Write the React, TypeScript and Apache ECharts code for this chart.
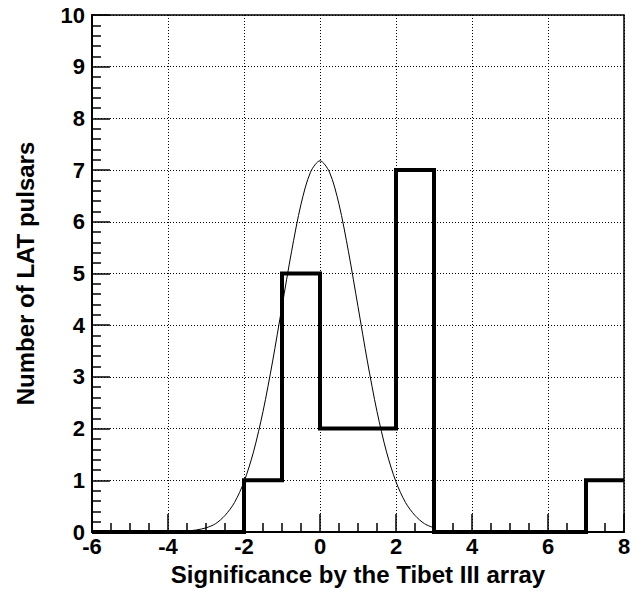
import React, { useEffect, useRef } from "react";
import * as echarts from "echarts";

// Histogram: bin lower edges and counts (bin width 1)
const binEdges = [-6, -5, -4, -3, -2, -1, 0, 1, 2, 3, 4, 5, 6, 7, 8];
const binCounts = [0, 0, 0, 0, 1, 5, 2, 2, 7, 0, 0, 0, 0, 1];

// Fitted curve
const curveX = [-3.5, -3.25, -3, -2.75, -2.5, -2.25, -2, -1.75, -1.5, -1.25, -1, -0.75, -0.5, -0.25, 0, 0.25, 0.5, 0.75, 1, 1.25, 1.5, 1.75, 2, 2.25, 2.5, 2.75, 3];
const curveY = [0.02, 0.04, 0.08, 0.16, 0.32, 0.57, 0.97, 1.55, 2.33, 3.29, 4.36, 5.42, 6.34, 6.96, 7.18, 6.96, 6.34, 5.42, 4.36, 3.29, 2.33, 1.55, 0.97, 0.57, 0.32, 0.16, 0.08];

const xTitle = "Significance by the Tibet III array";
const yTitle = "Number of LAT pulsars";

export default function App() {
  const ref = useRef<HTMLDivElement>(null);
  useEffect(() => {
    if (!ref.current) return;
    const chart = echarts.init(ref.current, null, { renderer: "svg" });
    const histData: number[][] = binCounts.map((c, i) => [binEdges[i], c]);
    histData.push([binEdges[binEdges.length - 1], binCounts[binCounts.length - 1]]);
    const curveData = curveX.map((x, i) => [x, curveY[i]]);
    const font = "'Liberation Sans', Arial, sans-serif";
    chart.setOption({
      animation: false,
      backgroundColor: "#fff",
      grid: {
        left: 92,
        right: 19,
        top: 15,
        bottom: 53,
        show: true,
        borderColor: "#000",
        borderWidth: 1.5,
        containLabel: false,
      },
      xAxis: {
        type: "value",
        min: -6,
        max: 8,
        interval: 2,
        name: xTitle,
        nameLocation: "middle",
        nameGap: 30,
        nameTextStyle: { fontFamily: font, fontWeight: "bold", fontSize: 24, color: "#000" },
        axisLine: { show: true, onZero: false, lineStyle: { color: "#000", width: 2 } },
        axisTick: { show: true, inside: true, length: 18, lineStyle: { color: "#000", width: 1.5 } },
        minorTick: { show: true, splitNumber: 4, length: 9, lineStyle: { color: "#000", width: 1.5 } },
        axisLabel: { margin: 3, fontFamily: font, fontWeight: "bold", fontSize: 22, color: "#000" },
        splitLine: { show: true, lineStyle: { color: "#000", width: 1, type: [1, 2] } },
      },
      yAxis: {
        type: "value",
        min: 0,
        max: 10,
        interval: 1,
        name: yTitle,
        nameLocation: "middle",
        nameGap: 55,
        nameTextStyle: { fontFamily: font, fontWeight: "bold", fontSize: 24, color: "#000" },
        axisLine: { show: true, onZero: false, lineStyle: { color: "#000", width: 2 } },
        axisTick: { show: true, inside: true, length: 18, lineStyle: { color: "#000", width: 1.5 } },
        minorTick: { show: true, splitNumber: 5, length: 9, lineStyle: { color: "#000", width: 1.5 } },
        axisLabel: { margin: 7, fontFamily: font, fontWeight: "bold", fontSize: 22, color: "#000" },
        splitLine: { show: true, lineStyle: { color: "#000", width: 1, type: [1, 2] } },
      },
      series: [
        {
          type: "line",
          data: curveData,
          smooth: 0.3,
          showSymbol: false,
          symbol: "none",
          lineStyle: { color: "#000", width: 1 },
          z: 2,
        },
        {
          type: "line",
          data: histData,
          step: "end",
          showSymbol: false,
          symbol: "none",
          clip: false,
          lineStyle: { color: "#000", width: 4, join: "miter", cap: "butt" },
          z: 3,
        },
      ],
    });
    return () => chart.dispose();
  }, []);
  return (
    <div
      ref={ref}
      style={{ position: "absolute", left: 0, top: 0, width: 643, height: 591 }}
    />
  );
}
